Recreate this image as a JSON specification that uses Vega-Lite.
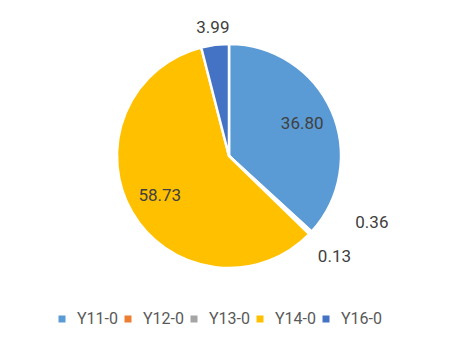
{
  "$schema": "https://vega.github.io/schema/vega-lite/v6.json",
  "width": 458,
  "height": 359,
  "autosize": {"type": "fit", "contains": "padding"},
  "padding": 0,
  "background": "white",
  "config": {"view": {"stroke": "#d9d9d9", "strokeWidth": 2}},
  "data": {
    "values": [
      {"series": "Y11-0", "value": 36.80},
      {"series": "Y12-0", "value": 0.36},
      {"series": "Y13-0", "value": 0.13},
      {"series": "Y14-0", "value": 58.73},
      {"series": "Y16-0", "value": 3.99}
    ]
  },
  "transform": [
    {"stack": "value", "groupby": [], "sort": [{"field": "series", "order": "ascending"}], "as": ["v0", "v1"]}
  ],
  "layer": [
    {
      "mark": {"type": "arc", "outerRadius": 112, "stroke": "white", "strokeWidth": 2.5, "yOffset": -23.5},
      "encoding": {
        "theta": {"field": "v0", "type": "quantitative", "scale": {"domain": [0, 100.01]}},
        "theta2": {"field": "v1"},
        "color": {
          "field": "series",
          "type": "nominal",
          "scale": {
            "domain": ["Y11-0", "Y12-0", "Y13-0", "Y14-0", "Y16-0"],
            "range": ["#5B9BD5", "#ED7D31", "#A5A5A5", "#FFC000", "#4472C4"]
          },
          "legend": {
            "orient": "none",
            "legendX": 54,
            "legendY": 311,
            "direction": "horizontal",
            "columns": 5,
            "title": null,
            "symbolType": "square",
            "symbolSize": 49,
            "symbolStrokeWidth": 0,
            "labelFont": "Roboto",
            "labelFontSize": 16,
            "labelColor": "#595959",
            "labelOffset": 7,
            "columnPadding": 1
          }
        }
      }
    },
    {
      "mark": {"type": "text", "radius": 80, "font": "Roboto", "fontSize": 17, "fill": "#404040", "yOffset": -23.5},
      "encoding": {
        "theta": {"field": "value", "type": "quantitative", "stack": true},
        "order": {"field": "series", "type": "ordinal", "sort": "ascending"},
        "text": {
          "condition": {"test": "datum.series === 'Y11-0' || datum.series === 'Y14-0'", "field": "value", "type": "quantitative", "format": ".2f"},
          "value": ""
        }
      }
    },
    {
      "mark": {"type": "text", "radius": 129, "font": "Roboto", "fontSize": 17, "fill": "#404040", "yOffset": -23.5},
      "encoding": {
        "theta": {"field": "value", "type": "quantitative", "stack": true},
        "order": {"field": "series", "type": "ordinal", "sort": "ascending"},
        "text": {
          "condition": {"test": "datum.series === 'Y16-0'", "field": "value", "type": "quantitative", "format": ".2f"},
          "value": ""
        }
      }
    },
    {
      "transform": [{"filter": "datum.series === 'Y12-0'"}],
      "mark": {"type": "text", "radius": 158, "thetaOffset": -0.3, "font": "Roboto", "fontSize": 17, "fill": "#404040", "yOffset": -23.5},
      "encoding": {
        "theta": {"field": "v0", "type": "quantitative"},
        "theta2": {"field": "v1"},
        "text": {"field": "value", "type": "quantitative", "format": ".2f"}
      }
    },
    {
      "transform": [{"filter": "datum.series === 'Y13-0'"}],
      "mark": {"type": "text", "radius": 146, "font": "Roboto", "fontSize": 17, "fill": "#404040", "yOffset": -23.5},
      "encoding": {
        "theta": {"field": "v0", "type": "quantitative"},
        "theta2": {"field": "v1"},
        "text": {"field": "value", "type": "quantitative", "format": ".2f"}
      }
    }
  ]
}
